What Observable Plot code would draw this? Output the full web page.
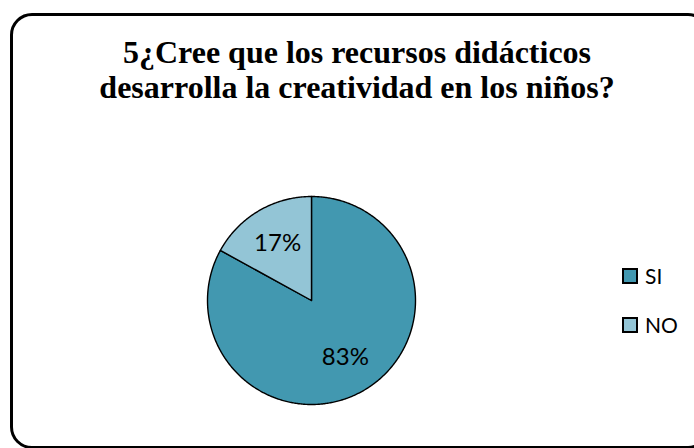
<!DOCTYPE html>
<html>
<head>
<meta charset="utf-8">
<script src="https://cdn.jsdelivr.net/npm/d3@7"></script>
<script src="https://cdn.jsdelivr.net/npm/@observablehq/plot@0.6"></script>
<style>
  html, body { margin: 0; padding: 0; background: #fff; }
  #wrap { position: relative; width: 694px; height: 448px; overflow: hidden; }
  #frame { position: absolute; left: 10px; top: 13px; width: 700px; height: 436px;
           border: 3.5px solid #000; border-radius: 22px; box-sizing: border-box; }
  #title { position: absolute; left: 0; top: 35px; width: 714px; text-align: center;
           font-family: "Liberation Serif", "Times New Roman", serif; font-weight: bold;
           font-size: 32px; line-height: 35px; color: #000; white-space: nowrap; }
  #chart { position: absolute; left: 0; top: 0; }
  .leg { position: absolute; left: 622px; height: 25px; font-family: Lato, "Open Sans", sans-serif;
         font-size: 21px; line-height: 25px; display: flex; align-items: center; }
  .leg .sw { width: 16px; height: 16px; border: 2px solid #000; margin-right: 7px; box-sizing: border-box; }
</style>
</head>
<body>
<div id="wrap">
  <div id="chart"></div>
  <div id="frame"></div>
  <div id="title">5¿Cree que los recursos didácticos<br>desarrolla la creatividad en los niños?</div>
  <div id="legend"></div>
</div>
<script>
const categories = ["SI", "NO"];
const values = [83, 17];
const labels = ["83%", "17%"];
const colors = ["#4298B0", "#93C5D6"];

const pie = d3.pie().sort(null).value(d => d.value)(categories.map((c, i) => ({cat: c, value: values[i], label: labels[i]})));

// Slice outlines from the pie angles (clockwise from top)
const pts = [];
pie.forEach(s => {
  const n = Math.max(2, Math.ceil((s.endAngle - s.startAngle) / 0.01));
  pts.push({cat: s.data.cat, x: 0, y: 0});
  for (let k = 0; k <= n; k++) {
    const a = s.startAngle + (s.endAngle - s.startAngle) * k / n;
    pts.push({cat: s.data.cat, x: Math.sin(a), y: Math.cos(a)});
  }
  pts.push({cat: s.data.cat, x: 0, y: 0});
});
const labs = pie.map(s => {
  const a = (s.startAngle + s.endAngle) / 2;
  return {label: s.data.label, x: 0.64 * Math.sin(a), y: 0.64 * Math.cos(a)};
});

const R = 104, cx = 311, cy = 300, W = 694, H = 448;
const plot = Plot.plot({
  width: W, height: H, margin: 0,
  x: {domain: [-cx / R, (W - cx) / R], axis: null},
  y: {domain: [-(H - cy) / R, cy / R], axis: null},
  color: {domain: categories, range: colors},
  marks: [
    Plot.line(pts, {x: "x", y: "y", z: "cat", fill: "cat", stroke: "#000", strokeWidth: 1.4, curve: "linear"}),
    Plot.text(labs, {x: "x", y: "y", text: "label", fontSize: 24, fill: "#000",
      fontFamily: "Lato, 'Open Sans', sans-serif"})
  ]
});
document.getElementById("chart").appendChild(plot);

const leg = document.getElementById("legend");
const legTops = [263, 312];
categories.forEach((c, i) => {
  const d = document.createElement("div");
  d.className = "leg";
  d.style.top = legTops[i] + "px";
  d.innerHTML = `<span class="sw" style="background:${colors[i]}"></span><span>${c}</span>`;
  leg.appendChild(d);
});
</script>
</body>
</html>
